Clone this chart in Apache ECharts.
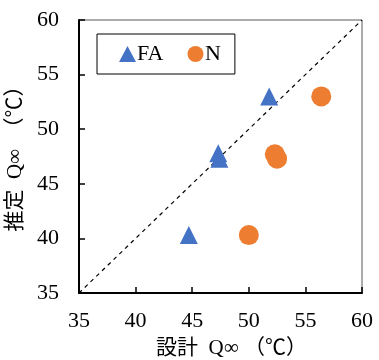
<!DOCTYPE html>
<html>
<head>
<meta charset="utf-8">
<script src="https://cdn.jsdelivr.net/npm/echarts@6/dist/echarts.min.js"></script>
<style>
  html, body { margin: 0; padding: 0; background: #fff; }
  #chart { width: 379px; height: 360px; }
</style>
</head>
<body>
<div id="chart"></div>
<script>
// Design vs. estimated Q∞ values (°C)
const faDesign   = [44.7, 47.3, 47.4, 51.8];
const faEstimate = [40.3, 47.8, 47.3, 53.0];
const nDesign    = [50.0, 52.3, 52.5, 56.4];
const nEstimate  = [40.3, 47.7, 47.3, 53.0];
const parityLine = [35, 60];
const axisTicks  = [35, 40, 45, 50, 55, 60];

const FONT = "'Liberation Serif', 'Noto Sans CJK JP', serif";

const pairs = (xs, ys) => xs.map((x, i) => [x, ys[i]]);

const axisCommon = {
  type: 'value',
  min: axisTicks[0],
  max: axisTicks[axisTicks.length - 1],
  interval: axisTicks[1] - axisTicks[0],
  splitLine: { show: false },
  axisLine: { show: true, lineStyle: { color: '#000', width: 2 } },
  axisTick: { show: true, inside: true, length: 6, lineStyle: { color: '#000', width: 1.5 } },
  axisLabel: { color: '#000', fontFamily: FONT, fontSize: 22 },
  nameLocation: 'middle',
  nameTextStyle: { color: '#000', fontFamily: FONT, fontSize: 21 }
};

const chart = echarts.init(document.getElementById('chart'));
chart.setOption({
  animation: false,
  grid: {
    left: 79, right: 17, top: 20, bottom: 67,
    containLabel: false,
    outerBoundsMode: 'none',
    show: true, borderColor: '#595959', borderWidth: 1
  },
  xAxis: Object.assign({}, axisCommon, {
    name: '設計  Q∞ （℃）',
    nameGap: 45,
    nameTextStyle: Object.assign({}, axisCommon.nameTextStyle, { padding: [0, 0, 0, 22] }),
    axisLabel: Object.assign({}, axisCommon.axisLabel, { margin: 17 })
  }),
  yAxis: Object.assign({}, axisCommon, {
    name: '推定  Q∞  （℃）',
    nameGap: 51,
    nameTextStyle: Object.assign({}, axisCommon.nameTextStyle, { padding: [0, 0, 0, 6] }),
    axisLabel: Object.assign({}, axisCommon.axisLabel, { margin: 20 })
  }),
  legend: {
    left: 97, top: 34,
    width: 140,
    padding: [9, 14, 9, 22],
    itemGap: 24,
    itemWidth: 17, itemHeight: 16,
    borderColor: '#000', borderWidth: 1,
    textStyle: { color: '#000', fontFamily: FONT, fontSize: 22, padding: [2, 0, 0, -4] },
    data: ['FA', 'N']
  },
  series: [
    {
      type: 'line',
      data: [[parityLine[0], parityLine[0]], [parityLine[1], parityLine[1]]],
      symbol: 'none',
      silent: true,
      lineStyle: { color: '#000', width: 1.2, type: [4, 4] },
      z: 1
    },
    {
      name: 'FA',
      type: 'scatter',
      symbol: 'triangle',
      symbolSize: 18,
      itemStyle: { color: '#4472C4', opacity: 1 },
      data: pairs(faDesign, faEstimate),
      z: 3
    },
    {
      name: 'N',
      type: 'scatter',
      symbol: 'circle',
      symbolSize: 20,
      itemStyle: { color: '#ED7D31', opacity: 1 },
      data: pairs(nDesign, nEstimate),
      z: 3
    }
  ]
});
</script>
</body>
</html>
